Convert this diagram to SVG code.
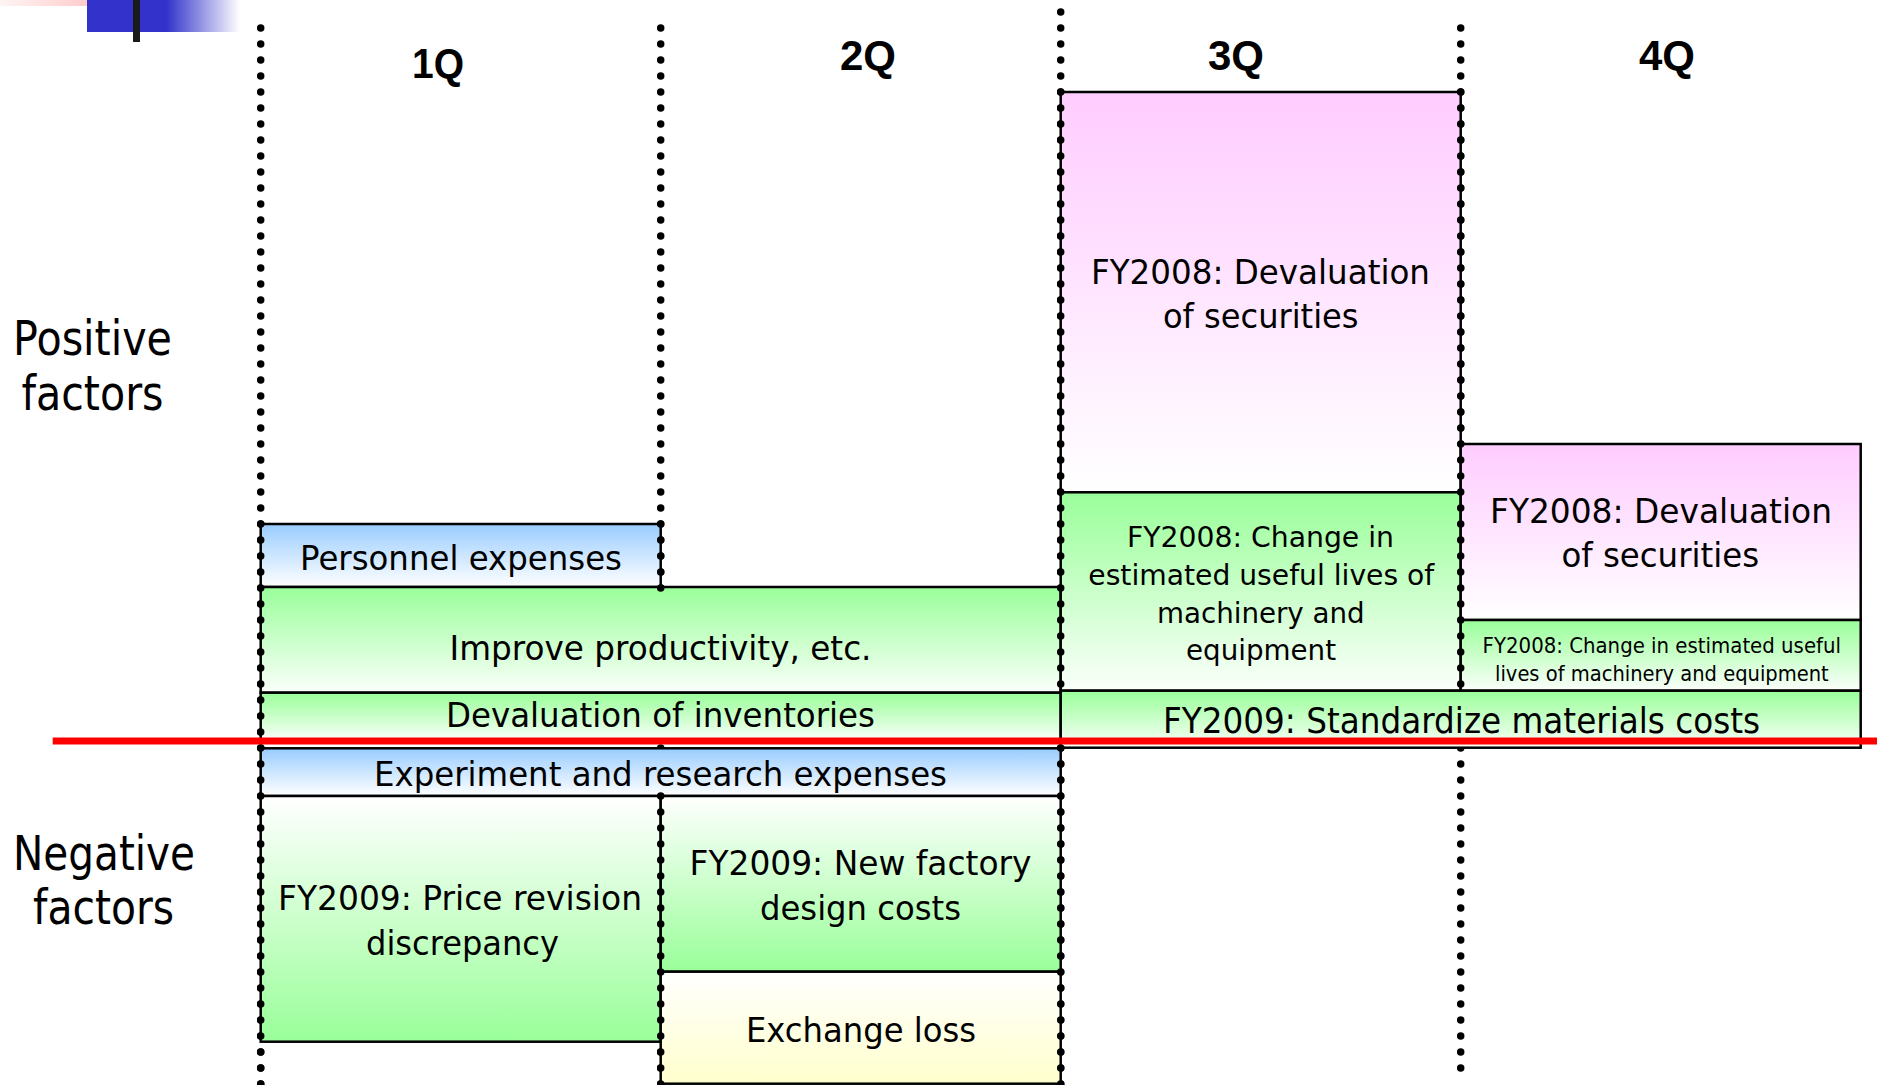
<svg xmlns="http://www.w3.org/2000/svg" width="1879" height="1085" viewBox="0 0 1879 1085">
<style>
.box{stroke:#000;stroke-width:2.5}
.t{font-family:"DejaVu Sans",Verdana,sans-serif;fill:#000;font-size:34px}
.h{font-family:"Liberation Sans",Arial,sans-serif;font-weight:bold;font-size:43px;fill:#000}
.lbl{font-family:"DejaVu Sans",Verdana,sans-serif;font-size:48px;fill:#000}
.dot{stroke:#000;stroke-width:7.5;stroke-dasharray:0 16;stroke-linecap:round;fill:none}
</style>
<defs>
<linearGradient id="gBlue" x1="0" y1="0" x2="0" y2="1"><stop offset="0" stop-color="#99ccff"/><stop offset="1" stop-color="#ffffff"/></linearGradient>
<linearGradient id="gGreen" x1="0" y1="0" x2="0" y2="1"><stop offset="0" stop-color="#99ff99"/><stop offset="1" stop-color="#fbfffb"/></linearGradient>
<linearGradient id="gGreenUp" x1="0" y1="0" x2="0" y2="1"><stop offset="0" stop-color="#ffffff"/><stop offset="1" stop-color="#99ff99"/></linearGradient>
<linearGradient id="gPink" x1="0" y1="0" x2="0" y2="1"><stop offset="0" stop-color="#ffccff"/><stop offset="1" stop-color="#ffffff"/></linearGradient>
<linearGradient id="gYellow" x1="0" y1="0" x2="0" y2="1"><stop offset="0" stop-color="#ffffff"/><stop offset="1" stop-color="#ffffcc"/></linearGradient>
<linearGradient id="gDecoBlue" gradientUnits="userSpaceOnUse" x1="87" y1="0" x2="240" y2="0"><stop offset="0" stop-color="#3333cc"/><stop offset="0.52" stop-color="#3333cc"/><stop offset="1" stop-color="#ffffff"/></linearGradient>
<linearGradient id="gDecoPink" gradientUnits="userSpaceOnUse" x1="0" y1="0" x2="118" y2="0"><stop offset="0" stop-color="#fff4f4"/><stop offset="1" stop-color="#ffbfbf"/></linearGradient>
</defs>

<g id="decoration">
<rect x="0" y="0" width="118" height="6" fill="url(#gDecoPink)"/>
<rect x="87" y="0" width="153" height="32" fill="url(#gDecoBlue)"/>
<rect x="133" y="0" width="7" height="42" fill="#1a1a1a"/>
</g>

<g id="dividers-under">
<path class="dot" d="M260.7 28V1087"/>
<path class="dot" d="M660.7 28V1087"/>
<path class="dot" d="M1060.7 12V1087"/>
<path class="dot" d="M1460.7 28V1070"/>
</g>

<g id="headers">
<text class="h" x="412" y="78" textLength="52" lengthAdjust="spacingAndGlyphs">1Q</text>
<text class="h" x="840" y="70" textLength="56" lengthAdjust="spacingAndGlyphs">2Q</text>
<text class="h" x="1208" y="70" textLength="56" lengthAdjust="spacingAndGlyphs">3Q</text>
<text class="h" x="1639" y="70" textLength="56" lengthAdjust="spacingAndGlyphs">4Q</text>
</g>

<g id="label-positive">
<text class="lbl" x="13" y="355" textLength="159" lengthAdjust="spacingAndGlyphs">Positive</text>
<text class="lbl" x="21.5" y="410" textLength="142" lengthAdjust="spacingAndGlyphs">factors</text>
</g>
<g id="label-negative">
<text class="lbl" x="13" y="870" textLength="182" lengthAdjust="spacingAndGlyphs">Negative</text>
<text class="lbl" x="33" y="924" textLength="141" lengthAdjust="spacingAndGlyphs">factors</text>
</g>

<g id="personnel">
<rect class="box" x="260.7" y="524" width="400" height="63" fill="url(#gBlue)"/>
<text class="t" x="300" y="570" textLength="322" lengthAdjust="spacingAndGlyphs">Personnel expenses</text>
</g>
<g id="improve">
<rect class="box" x="260.7" y="587" width="800" height="105.7" fill="url(#gGreen)"/>
<text class="t" x="449.5" y="659.5" textLength="422" lengthAdjust="spacingAndGlyphs">Improve productivity, etc.</text>
</g>
<g id="devaluation-inventories">
<rect class="box" x="260.7" y="692.7" width="800" height="48.3" fill="url(#gGreen)"/>
<text class="t" x="446" y="726.5" textLength="429" lengthAdjust="spacingAndGlyphs">Devaluation of inventories</text>
</g>
<g id="securities-3q">
<rect class="box" x="1060.7" y="92" width="400" height="400.3" fill="url(#gPink)"/>
<text class="t" x="1091" y="284" textLength="339" lengthAdjust="spacingAndGlyphs">FY2008: Devaluation</text>
<text class="t" x="1163" y="328.3" textLength="195.5" lengthAdjust="spacingAndGlyphs">of securities</text>
</g>
<g id="useful-lives-3q">
<rect class="box" x="1060.7" y="492.3" width="400" height="198.4" fill="url(#gGreen)"/>
<text class="t" style="font-size:28.5px" x="1127" y="547.3" textLength="267" lengthAdjust="spacingAndGlyphs">FY2008: Change in</text>
<text class="t" style="font-size:28.5px" x="1088.3" y="585" textLength="346" lengthAdjust="spacingAndGlyphs">estimated useful lives of</text>
<text class="t" style="font-size:28.5px" x="1157" y="622.6" textLength="207.6" lengthAdjust="spacingAndGlyphs">machinery and</text>
<text class="t" style="font-size:28.5px" x="1186" y="660.2" textLength="150" lengthAdjust="spacingAndGlyphs">equipment</text>
</g>
<g id="securities-4q">
<rect class="box" x="1460.7" y="444" width="400" height="176" fill="url(#gPink)"/>
<text class="t" x="1490" y="523.3" textLength="342" lengthAdjust="spacingAndGlyphs">FY2008: Devaluation</text>
<text class="t" x="1561.4" y="567.3" textLength="197.7" lengthAdjust="spacingAndGlyphs">of securities</text>
</g>
<g id="useful-lives-4q">
<rect class="box" x="1460.7" y="620" width="400" height="70.7" fill="url(#gGreen)"/>
<text class="t" style="font-size:20.5px" x="1482.6" y="653.3" textLength="358.4" lengthAdjust="spacingAndGlyphs">FY2008: Change in estimated useful</text>
<text class="t" style="font-size:20.5px" x="1495" y="681" textLength="333.7" lengthAdjust="spacingAndGlyphs">lives of machinery and equipment</text>
</g>
<g id="standardize">
<rect class="box" x="1060.7" y="690.7" width="800" height="57" fill="url(#gGreen)"/>
<text class="t" style="font-size:35px" x="1163" y="732.7" textLength="597" lengthAdjust="spacingAndGlyphs">FY2009: Standardize materials costs</text>
</g>
<g id="experiment">
<rect class="box" x="260.7" y="748.3" width="800" height="47.7" fill="url(#gBlue)"/>
<text class="t" x="374" y="786" textLength="573" lengthAdjust="spacingAndGlyphs">Experiment and research expenses</text>
</g>
<g id="price-revision">
<rect class="box" x="260.7" y="796" width="400" height="245.7" fill="url(#gGreenUp)"/>
<text class="t" x="278" y="910" textLength="364" lengthAdjust="spacingAndGlyphs">FY2009: Price revision</text>
<text class="t" x="366" y="955" textLength="193" lengthAdjust="spacingAndGlyphs">discrepancy</text>
</g>
<g id="new-factory">
<rect class="box" x="660.7" y="796" width="400" height="175.7" fill="url(#gGreenUp)"/>
<text class="t" x="689.5" y="875" textLength="342" lengthAdjust="spacingAndGlyphs">FY2009: New factory</text>
<text class="t" x="760" y="920" textLength="201" lengthAdjust="spacingAndGlyphs">design costs</text>
</g>
<g id="exchange-loss">
<rect class="box" x="660.7" y="971.7" width="400" height="112" fill="url(#gYellow)"/>
<text class="t" x="746" y="1041.7" textLength="230" lengthAdjust="spacingAndGlyphs">Exchange loss</text>
</g>

<g id="dividers-over">
<path class="dot" d="M260.7 524V1087"/>
<path class="dot" d="M660.7 524V590M660.7 796V1087"/>
<path class="dot" d="M1060.7 92V686M1060.7 748V1087"/>
<path class="dot" d="M1460.7 92V686"/>
<line x1="52.7" y1="741" x2="1877" y2="741" stroke="#ff0000" stroke-width="7"/>
</g>
</svg>
